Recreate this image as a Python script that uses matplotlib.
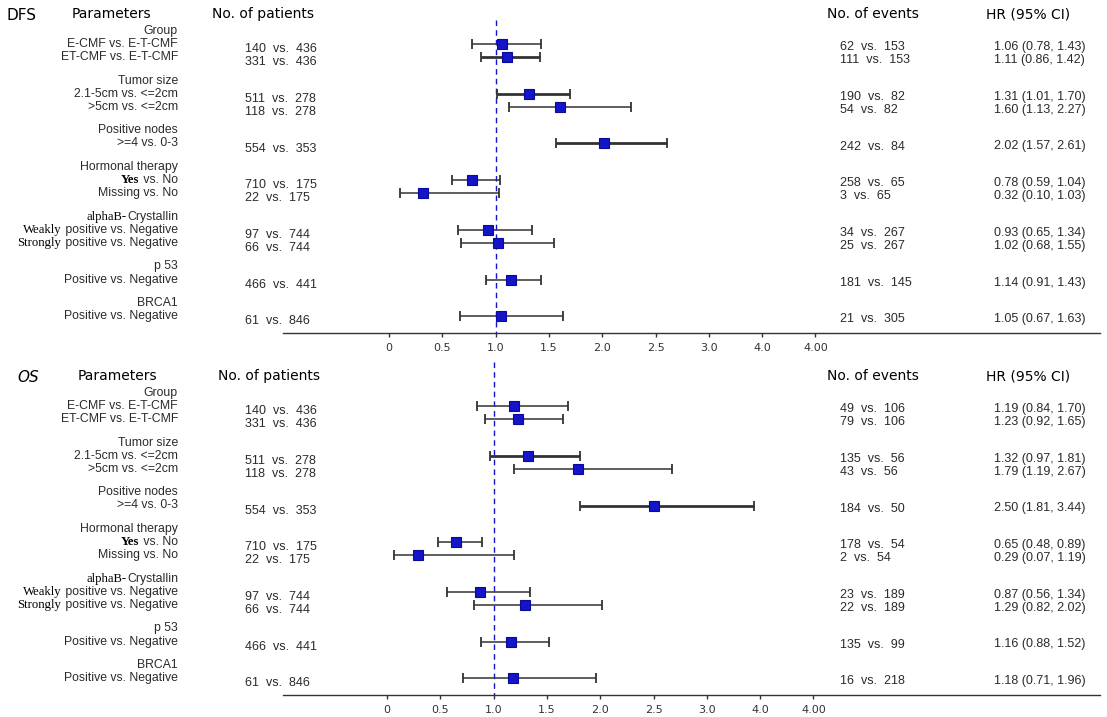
import matplotlib
matplotlib.use('Agg')
import matplotlib.pyplot as plt

# ---------------- data ----------------
group_names = ["Group", "Tumor size", "Positive nodes", "Hormonal therapy",
               "alphaB-Crystallin", "p 53", "BRCA1"]
group_sizes = [2, 2, 1, 2, 2, 1, 1]
row_labels = ["E-CMF vs. E-T-CMF", "ET-CMF vs. E-T-CMF",
              "2.1-5cm vs. <=2cm", ">5cm vs. <=2cm",
              ">=4 vs. 0-3",
              "Yes vs. No", "Missing vs. No",
              "Weakly positive vs. Negative", "Strongly positive vs. Negative",
              "Positive vs. Negative",
              "Positive vs. Negative"]
patients_a = [140, 331, 511, 118, 554, 710, 22, 97, 66, 466, 61]
patients_b = [436, 436, 278, 278, 353, 175, 175, 744, 744, 441, 846]

dfs_events_a = [62, 111, 190, 54, 242, 258, 3, 34, 25, 181, 21]
dfs_events_b = [153, 153, 82, 82, 84, 65, 65, 267, 267, 145, 305]
dfs_hr = [1.06, 1.11, 1.31, 1.60, 2.02, 0.78, 0.32, 0.93, 1.02, 1.14, 1.05]
dfs_lo = [0.78, 0.86, 1.01, 1.13, 1.57, 0.59, 0.10, 0.65, 0.68, 0.91, 0.67]
dfs_hi = [1.43, 1.42, 1.70, 2.27, 2.61, 1.04, 1.03, 1.34, 1.55, 1.43, 1.63]

os_events_a = [49, 79, 135, 43, 184, 178, 2, 23, 22, 135, 16]
os_events_b = [106, 106, 56, 56, 50, 54, 54, 189, 189, 99, 218]
os_hr = [1.19, 1.23, 1.32, 1.79, 2.50, 0.65, 0.29, 0.87, 1.29, 1.16, 1.18]
os_lo = [0.84, 0.92, 0.97, 1.19, 1.81, 0.48, 0.07, 0.56, 0.82, 0.88, 0.71]
os_hi = [1.70, 1.65, 1.81, 2.67, 3.44, 0.89, 1.19, 1.34, 2.02, 1.52, 1.96]

tick_values = [0, 0.5, 1.0, 1.5, 2.0, 2.5, 3.0, 3.5, 4.0]
tick_labels = ["0", "0.5", "1.0", "1.5", "2.0", "2.5", "3.0", "4.0", "4.00"]

# ---------------- style / layout ----------------
W, H = 1107, 717
SANS = "Liberation Sans"
HEAD = "DejaVu Sans"
SERIF = "Liberation Serif"
serif_words = {"Yes": "bold", "Weakly": "normal", "Strongly": "normal", "alphaB-": "normal"}
BODY_COL = "#2a2a2a"
BLUE = "#1414c8"

fig = plt.figure(figsize=(W / 100, H / 100), dpi=100)
fig.patch.set_facecolor("white")
renderer = fig.canvas.get_renderer()


def fx(x):
    return x / W


def fy(y):
    return 1 - y / H


def mixed_label(x_right, y, text, size=8.8):
    """Right-aligned label; a leading word in serif font if applicable."""
    prefix = None
    for w in serif_words:
        if text.startswith(w):
            prefix = w
            break
    if prefix is None:
        fig.text(fx(x_right), fy(y), text, ha="right", va="center",
                 family=SANS, size=size, color=BODY_COL)
        return
    rest = text[len(prefix):]
    t = fig.text(fx(x_right), fy(y), rest, ha="right", va="center",
                 family=SANS, size=size, color=BODY_COL)
    bb = t.get_window_extent(renderer=renderer)
    fig.text(fx(bb.x0 - 0.5), fy(y), prefix, ha="right", va="center",
             family=SERIF, size=size + 0.4, weight=serif_words[prefix], color="black")


# local row layout (pixel rows relative to panel top)
header_y = []
row_y = []
y = 31
for n in group_sizes:
    header_y.append(y)
    ys = [y + 13.3 + 12.8 * i for i in range(n)]
    row_y.extend(ys)
    y = ys[-1] + 23.5

thick_rows = {"DFS": [1, 2, 4], "OS": [2, 4]}

panels = [
    ("DFS", 0, 0, "normal", 7, dfs_events_a, dfs_events_b, dfs_hr, dfs_lo, dfs_hi, 20, 0),
    ("OS", 362, 6, "italic", 17, os_events_a, os_events_b, os_hr, os_lo, os_hi, 0, -2),
]

for (name, top, hoff, style, name_x, ev_a, ev_b, hr, lo, hi, dash_top, xshift) in panels:
    axis_y = top + 333
    x0_px = 389 + xshift          # pixel position of value 0
    ppu = 106.6                   # pixels per unit
    left_px, right_px = 283, 1100
    ax = fig.add_axes([fx(left_px), fy(axis_y), (right_px - left_px) / W, (axis_y - top) / H])
    ax.set_xlim((left_px - x0_px) / ppu, (right_px - x0_px) / ppu)
    ax.set_ylim(333, 0)
    ax.patch.set_alpha(0)
    for s in ["top", "right", "left"]:
        ax.spines[s].set_visible(False)
    ax.spines["bottom"].set_color("#333333")
    ax.spines["bottom"].set_linewidth(1.0)
    ax.set_yticks([])
    ax.set_xticks(tick_values)
    ax.set_xticklabels(tick_labels, family=HEAD, size=8, color="#333333")
    ax.tick_params(axis="x", length=3, width=1, color="#333333", pad=4)

    # reference line
    ax.plot([1.0, 1.0], [dash_top, 333], color=BLUE, lw=1.0, ls=(0, (4, 3)), zorder=1)

    for i, yy in enumerate(row_y):
        lw = 2.0 if i in thick_rows[name] else 1.1
        ax.errorbar([hr[i]], [yy], xerr=[[hr[i] - lo[i]], [hi[i] - hr[i]]], fmt="none",
                    ecolor="#333333", elinewidth=lw, capsize=3.6, capthick=1.3, zorder=2)
    ax.plot(hr, row_y, ls="none", marker="s", markersize=7.4, markerfacecolor=BLUE,
            markeredgecolor="#0a0a9a", markeredgewidth=0.8, zorder=3)

    # headers
    fig.text(fx(name_x), fy(top + 15), name, ha="left", va="center", family=HEAD,
             size=11, style=style, color="black")
    fig.text(fx(72 + hoff), fy(top + 14), "Parameters", ha="left", va="center",
             family=HEAD, size=10, color="black")
    fig.text(fx(212 + hoff), fy(top + 14), "No. of patients", ha="left", va="center",
             family=HEAD, size=10, color="black")
    fig.text(fx(827), fy(top + 14), "No. of events", ha="left", va="center",
             family=HEAD, size=10, color="black")
    fig.text(fx(986), fy(top + 14), "HR (95% CI)", ha="left", va="center",
             family=HEAD, size=10, color="black")

    for g, gy in zip(group_names, header_y):
        mixed_label(178, top + gy, g)
    for i, yy in enumerate(row_y):
        mixed_label(178, top + yy, row_labels[i])
        fig.text(fx(245), fy(top + yy + 5), f"{patients_a[i]}  vs.  {patients_b[i]}",
                 ha="left", va="center", family=SANS, size=9, color=BODY_COL)
        fig.text(fx(840), fy(top + yy + 3), f"{ev_a[i]}  vs.  {ev_b[i]}",
                 ha="left", va="center", family=SANS, size=9, color=BODY_COL)
        fig.text(fx(994), fy(top + yy + 3), f"{hr[i]:.2f} ({lo[i]:.2f}, {hi[i]:.2f})",
                 ha="left", va="center", family=SANS, size=9, color=BODY_COL)

fig.savefig("out.png", dpi=100, facecolor="white")
